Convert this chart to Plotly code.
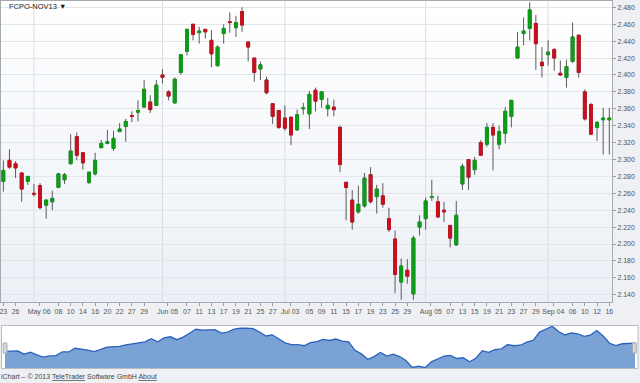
import plotly.graph_objects as go

# ---------------- data ----------------
dates = [
    "2013-04-23", "2013-04-25", "2013-04-26", "2013-04-29", "2013-04-30",
    "2013-05-02", "2013-05-03", "2013-05-06", "2013-05-07", "2013-05-08",
    "2013-05-09", "2013-05-10", "2013-05-13", "2013-05-14", "2013-05-15",
    "2013-05-16", "2013-05-17", "2013-05-20", "2013-05-21", "2013-05-22",
    "2013-05-23", "2013-05-27", "2013-05-28", "2013-05-29", "2013-05-30",
    "2013-05-31", "2013-06-03", "2013-06-04", "2013-06-05", "2013-06-06",
    "2013-06-07", "2013-06-10", "2013-06-11", "2013-06-12", "2013-06-13",
    "2013-06-14", "2013-06-17", "2013-06-18", "2013-06-19", "2013-06-20",
    "2013-06-21", "2013-06-24", "2013-06-25", "2013-06-26", "2013-06-27",
    "2013-06-28", "2013-07-01", "2013-07-02", "2013-07-03", "2013-07-04",
    "2013-07-05", "2013-07-08", "2013-07-09", "2013-07-10", "2013-07-11",
    "2013-07-12", "2013-07-15", "2013-07-16", "2013-07-17", "2013-07-18",
    "2013-07-19", "2013-07-22", "2013-07-23", "2013-07-24", "2013-07-25",
    "2013-07-26", "2013-07-29", "2013-07-30", "2013-07-31", "2013-08-01",
    "2013-08-02", "2013-08-05", "2013-08-06", "2013-08-07", "2013-08-12",
    "2013-08-13", "2013-08-14", "2013-08-15", "2013-08-16", "2013-08-19",
    "2013-08-20", "2013-08-21", "2013-08-22", "2013-08-23", "2013-08-26",
    "2013-08-27", "2013-08-28", "2013-08-29", "2013-08-30", "2013-09-02",
    "2013-09-03", "2013-09-04", "2013-09-05", "2013-09-06", "2013-09-09",
    "2013-09-10", "2013-09-11", "2013-09-12", "2013-09-13", "2013-09-16",
]

opens = [
    2.274, 2.299, 2.295, 2.284, 2.274, 2.260, 2.269, 2.246, 2.250, 2.267,
    2.276, 2.295, 2.327, 2.308, 2.273, 2.283, 2.314, 2.319, 2.313, 2.333,
    2.339, 2.352, 2.356, 2.362, 2.368, 2.364, 2.400, 2.380, 2.367, 2.403,
    2.428, 2.460, 2.450, 2.454, 2.441, 2.411, 2.449, 2.463, 2.456, 2.475,
    2.439, 2.420, 2.407, 2.394, 2.366, 2.358, 2.349, 2.350, 2.335, 2.360,
    2.354, 2.382, 2.371, 2.360, 2.362, 2.338, 2.273, 2.252, 2.238, 2.245,
    2.282, 2.256, 2.257, 2.230, 2.206, 2.155, 2.169, 2.141, 2.220, 2.230,
    2.255, 2.250, 2.240, 2.222, 2.199, 2.271, 2.300, 2.288, 2.320, 2.318,
    2.338, 2.318, 2.331, 2.351, 2.420, 2.449, 2.455, 2.461, 2.415, 2.424,
    2.430, 2.402, 2.397, 2.416, 2.447, 2.380, 2.365, 2.338, 2.347, 2.347,
]

highs = [
    2.299, 2.312, 2.298, 2.285, 2.280, 2.271, 2.272, 2.252, 2.263, 2.284,
    2.284, 2.330, 2.332, 2.309, 2.285, 2.308, 2.323, 2.335, 2.334, 2.343,
    2.348, 2.357, 2.370, 2.394, 2.376, 2.394, 2.407, 2.382, 2.397, 2.424,
    2.454, 2.460, 2.457, 2.454, 2.453, 2.435, 2.460, 2.474, 2.470, 2.480,
    2.439, 2.420, 2.416, 2.398, 2.366, 2.358, 2.364, 2.350, 2.359, 2.367,
    2.381, 2.385, 2.380, 2.373, 2.371, 2.340, 2.273, 2.264, 2.269, 2.284,
    2.291, 2.270, 2.272, 2.243, 2.216, 2.183, 2.182, 2.210, 2.234, 2.255,
    2.276, 2.257, 2.250, 2.222, 2.251, 2.295, 2.300, 2.303, 2.323, 2.343,
    2.343, 2.340, 2.362, 2.370, 2.451, 2.468, 2.486, 2.471, 2.433, 2.441,
    2.432, 2.417, 2.418, 2.462, 2.448, 2.383, 2.367, 2.345, 2.361, 2.361,
]

lows = [
    2.262, 2.289, 2.278, 2.250, 2.270, 2.256, 2.241, 2.230, 2.240, 2.266,
    2.271, 2.294, 2.299, 2.288, 2.271, 2.281, 2.313, 2.318, 2.310, 2.333,
    2.321, 2.344, 2.345, 2.362, 2.355, 2.363, 2.390, 2.370, 2.366, 2.400,
    2.423, 2.441, 2.437, 2.443, 2.409, 2.410, 2.437, 2.450, 2.445, 2.451,
    2.416, 2.392, 2.394, 2.377, 2.342, 2.336, 2.334, 2.317, 2.334, 2.353,
    2.336, 2.357, 2.361, 2.351, 2.351, 2.285, 2.228, 2.217, 2.236, 2.243,
    2.248, 2.236, 2.243, 2.214, 2.142, 2.134, 2.153, 2.134, 2.210, 2.217,
    2.251, 2.231, 2.226, 2.196, 2.198, 2.264, 2.264, 2.282, 2.305, 2.315,
    2.287, 2.312, 2.319, 2.338, 2.420, 2.435, 2.441, 2.406, 2.397, 2.411,
    2.405, 2.399, 2.385, 2.414, 2.397, 2.346, 2.329, 2.322, 2.306, 2.306,
]

closes = [
    2.287, 2.291, 2.290, 2.265, 2.280, 2.259, 2.243, 2.252, 2.254, 2.283,
    2.282, 2.310, 2.305, 2.296, 2.285, 2.299, 2.319, 2.321, 2.325, 2.336,
    2.345, 2.351, 2.358, 2.383, 2.359, 2.388, 2.397, 2.375, 2.395, 2.424,
    2.454, 2.448, 2.452, 2.451, 2.425, 2.433, 2.455, 2.462, 2.462, 2.459,
    2.433, 2.403, 2.412, 2.379, 2.351, 2.338, 2.337, 2.329, 2.353, 2.361,
    2.377, 2.369, 2.380, 2.364, 2.359, 2.294, 2.267, 2.226, 2.247, 2.278,
    2.250, 2.265, 2.247, 2.217, 2.164, 2.174, 2.162, 2.207, 2.226, 2.251,
    2.256, 2.232, 2.238, 2.207, 2.234, 2.292, 2.279, 2.299, 2.305, 2.338,
    2.329, 2.333, 2.357, 2.370, 2.433, 2.452, 2.477, 2.437, 2.411, 2.427,
    2.420, 2.400, 2.410, 2.445, 2.403, 2.348, 2.330, 2.344, 2.349, 2.349,
]

tick_dates = [
    "2013-04-23", "2013-04-26", "2013-05-06", "2013-05-08", "2013-05-10",
    "2013-05-14", "2013-05-16", "2013-05-20", "2013-05-22", "2013-05-27",
    "2013-05-29", "2013-06-05", "2013-06-07", "2013-06-11", "2013-06-13",
    "2013-06-17", "2013-06-19", "2013-06-21", "2013-06-25", "2013-06-27",
    "2013-07-03", "2013-07-05", "2013-07-09", "2013-07-11", "2013-07-15",
    "2013-07-17", "2013-07-19", "2013-07-23", "2013-07-25", "2013-07-29",
    "2013-08-05", "2013-08-07", "2013-08-13", "2013-08-15", "2013-08-19",
    "2013-08-21", "2013-08-23", "2013-08-27", "2013-08-29", "2013-09-04",
    "2013-09-06", "2013-09-10", "2013-09-12", "2013-09-16",
]
tick_labels = [
    "23", "26", "May 06", "08", "10", "14", "16", "20", "22", "27",
    "29", "Jun 05", "07", "11", "13", "17", "19", "21", "25", "27",
    "Jul 03", "05", "09", "11", "15", "17", "19", "23", "25", "29",
    "Aug 05", "07", "13", "15", "19", "21", "23", "27", "29", "Sep 04",
    "06", "10", "12", "16",
]

title_text = "FCPO-NOV13 \u25bc"

# ---------------- style ----------------
W, H = 640, 383
GREEN = "#0c9c17"
RED = "#c8101e"
WICK = "#5a5a5a"
PAGE_BG = "#eef0f4"
GRID = "#e2e5ea"
NAV_LINE = "#2c62bd"
NAV_FILL = "#7aa2d5"
FONT = "Arial, Liberation Sans, sans-serif"
MONTH_LABEL_SHIFT = 1.15   # candles: day number of "Mon DD" sits on its date


def fx(p):
    return p / W


def fy(p):
    return 1 - p / H


xpos = list(range(len(dates)))
tickpos = []
for d, lab in zip(tick_dates, tick_labels):
    i = dates.index(d)
    tickpos.append(i - MONTH_LABEL_SHIFT if " " in lab else i)

body_hi = [max(o, c) for o, c in zip(opens, closes)]
body_lo = [min(o, c) for o, c in zip(opens, closes)]

fig = go.Figure()

# wicks (gray)
fig.add_trace(go.Candlestick(
    x=xpos, open=opens, high=highs, low=lows, close=closes,
    increasing=dict(line=dict(color=WICK, width=1), fillcolor=GREEN),
    decreasing=dict(line=dict(color=WICK, width=1), fillcolor=RED),
    whiskerwidth=0, hoverinfo="skip", showlegend=False,
    xaxis="x", yaxis="y",
))
# coloured bodies
fig.add_trace(go.Candlestick(
    x=xpos, open=opens, high=body_hi, low=body_lo, close=closes,
    increasing=dict(line=dict(color=GREEN, width=1), fillcolor=GREEN),
    decreasing=dict(line=dict(color=RED, width=1), fillcolor=RED),
    whiskerwidth=0, hoverinfo="skip", showlegend=False,
    xaxis="x", yaxis="y",
))
# navigator area
fig.add_trace(go.Scatter(
    x=xpos, y=closes, mode="lines", fill="tozeroy",
    line=dict(color=NAV_LINE, width=1.3), fillcolor=NAV_FILL,
    hoverinfo="skip", showlegend=False, xaxis="x2", yaxis="y2",
))

shapes = []
# background gradient of main plot
top_px, bot_px = 1, 302
n_bands = 24
c0 = (255, 255, 255)
c1 = (236, 240, 246)
for i in range(n_bands):
    t = i / (n_bands - 1)
    col = tuple(round(a + (b - a) * t) for a, b in zip(c0, c1))
    y0 = top_px + (bot_px - top_px) * i / n_bands
    y1 = top_px + (bot_px - top_px) * (i + 1) / n_bands
    shapes.append(dict(
        type="rect", xref="paper", yref="paper",
        x0=fx(1), x1=fx(612), y0=fy(y1 + 0.5), y1=fy(y0),
        fillcolor="rgb(%d,%d,%d)" % col, line=dict(width=0), layer="below",
    ))

# month separators
for i in range(1, len(dates)):
    if dates[i][5:7] != dates[i - 1][5:7]:
        shapes.append(dict(
            type="line", xref="x", yref="y domain", x0=i, x1=i, y0=0, y1=1,
            line=dict(color="#d9dce1", width=1), layer="below",
        ))

# navigator frame and handles
shapes.append(dict(
    type="rect", xref="paper", yref="paper",
    x0=fx(1.5), x1=fx(638), y0=fy(368.5), y1=fy(325.5),
    fillcolor="#ffffff", line=dict(color="#b9bcc2", width=1), layer="below",
))
for xa, xb in [(3.2, 7.0), (632.5, 636.3)]:
    shapes.append(dict(
        type="rect", xref="paper", yref="paper",
        x0=fx(xa), x1=fx(xb), y0=fy(353), y1=fy(343),
        fillcolor="#d6d8dc", line=dict(color="#a9acb2", width=1), layer="above",
    ))

nav_lo = min(closes) - 0.002
nav_hi = max(closes) + 0.002

fig.update_layout(
    width=W, height=H,
    margin=dict(l=0, r=0, t=0, b=0),
    paper_bgcolor=PAGE_BG, plot_bgcolor="rgba(0,0,0,0)",
    font=dict(family=FONT, size=7, color="#555555"),
    boxgap=0.32,
    showlegend=False,
    shapes=shapes,
    xaxis=dict(
        domain=[fx(1), fx(612)], anchor="y",
        range=[-0.38, 99.44], rangeslider=dict(visible=False),
        showgrid=False, zeroline=False,
        tickmode="array", tickvals=tickpos, ticktext=tick_labels,
        ticks="outside", ticklen=3, tickcolor="#9a9da3", tickangle=0,
        tickfont=dict(size=7, color="#555555", family=FONT),
        ticklabeloverflow="allow",
        showline=True, linecolor="#a6a9ae", linewidth=1, mirror=True,
        fixedrange=True, automargin=False,
    ),
    yaxis=dict(
        domain=[fy(302), fy(1)], anchor="x", side="right",
        range=[2.1314, 2.4875], tick0=2.14, dtick=0.02, tickformat=".3f",
        showgrid=True, gridcolor=GRID, gridwidth=1, zeroline=False,
        ticks="outside", ticklen=3, tickcolor="#9a9da3",
        tickfont=dict(size=7, color="#555555", family=FONT),
        ticklabeloverflow="allow",
        showline=True, linecolor="#a6a9ae", linewidth=1, mirror=True,
        fixedrange=True, automargin=False,
    ),
    xaxis2=dict(
        domain=[fx(5), fx(635)], anchor="y2",
        range=[0, len(dates) - 1], visible=False, fixedrange=True,
    ),
    yaxis2=dict(
        domain=[fy(368), fy(326)], anchor="x2",
        range=[nav_lo, nav_hi], visible=False, fixedrange=True,
    ),
    annotations=[
        dict(
            text=title_text, xref="paper", yref="paper",
            x=fx(7), y=fy(6.5), xanchor="left", yanchor="middle",
            showarrow=False, font=dict(size=7.5, color="#222222", family=FONT),
        ),
        dict(
            text="iChart \u2013 \u00a9 2013 "
                 "<span style='text-decoration:underline'>TeleTrader</span>"
                 " Software GmbH "
                 "<span style='text-decoration:underline'>About</span>",
            xref="paper", yref="paper",
            x=fx(-1), y=fy(376.5), xanchor="left", yanchor="middle",
            showarrow=False, font=dict(size=7, color="#444444", family=FONT),
        ),
    ],
)

fig.write_html(
    "out.html",
    config={"displayModeBar": False},
    post_script="document.body.style.margin='0px';"
                "document.body.style.overflow='hidden';",
)
